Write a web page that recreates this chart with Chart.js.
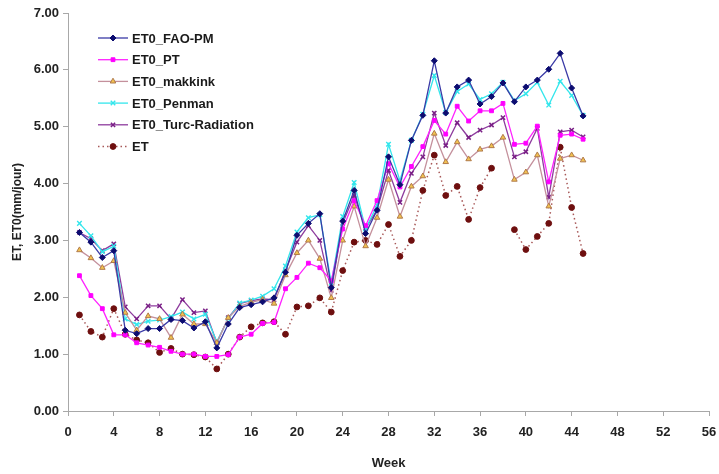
<!DOCTYPE html>
<html lang="fr">
<head>
<meta charset="UTF-8">
<title>ET / ET0 hebdomadaire</title>
<script src="https://cdn.jsdelivr.net/npm/chart.js"></script>
<style>
  *{margin:0;padding:0;box-sizing:border-box;}
  body{background:#fff;width:719px;height:474px;overflow:hidden;}
  canvas{display:block;}
</style>
</head>
<body>
<canvas id="chart" width="719" height="474"></canvas>
<script>
// semaines 1..45
const weeks = [1,2,3,4,5,6,7,8,9,10,11,12,13,14,15,16,17,18,19,20,21,22,23,24,25,26,27,28,29,30,31,32,33,34,35,36,37,38,39,40,41,42,43,44,45];

const faoPm = [3.14,2.97,2.70,2.82,1.42,1.36,1.45,1.45,1.61,1.59,1.46,1.57,1.11,1.53,1.82,1.87,1.92,1.99,2.44,3.09,3.30,3.47,2.17,3.34,3.88,3.12,3.53,4.47,3.98,4.76,5.20,6.16,5.24,5.70,5.82,5.40,5.53,5.77,5.44,5.70,5.82,6.01,6.29,5.68,5.19];
const pt = [2.38,2.03,1.80,1.34,1.34,1.20,1.16,1.12,1.05,1.00,1.00,0.96,0.96,0.99,1.30,1.35,1.54,1.56,2.15,2.35,2.60,2.52,2.29,3.20,3.70,3.26,3.70,4.35,3.94,4.30,4.65,5.11,4.87,5.36,5.10,5.28,5.28,5.41,4.69,4.71,5.01,4.03,4.85,4.87,4.78];
const makkink = [2.83,2.69,2.52,2.64,1.73,1.42,1.67,1.62,1.29,1.70,1.53,1.53,1.20,1.64,1.84,1.91,1.96,1.89,2.39,2.78,3.00,2.68,1.99,3.00,3.60,2.90,3.40,4.07,3.42,3.95,4.13,4.88,4.38,4.73,4.43,4.60,4.66,4.81,4.07,4.20,4.50,3.60,4.44,4.50,4.41];
const penman = [3.30,3.08,2.80,2.90,1.62,1.52,1.58,1.60,1.66,1.74,1.62,1.70,1.22,1.62,1.90,1.95,2.02,2.15,2.55,3.15,3.40,3.45,2.25,3.42,4.02,3.20,3.62,4.69,4.05,4.76,5.22,5.90,5.25,5.62,5.75,5.48,5.58,5.78,5.46,5.58,5.78,5.38,5.80,5.55,5.20];
const turc = [3.14,3.03,2.82,2.94,1.83,1.62,1.85,1.85,1.62,1.96,1.73,1.76,1.20,1.64,1.89,1.94,1.97,1.96,2.47,2.97,3.26,3.00,2.12,3.30,3.79,3.21,3.54,4.23,3.67,4.18,4.47,5.24,4.67,5.07,4.81,4.94,5.03,5.16,4.47,4.56,4.97,3.76,4.91,4.94,4.82];
// ET mesuré (semaine 38 manquante)
const et = [1.69,1.40,1.30,1.80,1.35,1.25,1.20,1.03,1.10,1.00,0.99,0.95,0.74,1.00,1.30,1.48,1.55,1.57,1.35,1.83,1.85,1.99,1.74,2.47,2.97,3.00,2.93,3.28,2.72,3.00,3.88,4.50,3.79,3.95,3.37,3.93,4.27,null,3.19,2.84,3.07,3.30,4.64,3.58,2.77];

const seriesNames = ['ET0_FAO-PM','ET0_PT','ET0_makkink','ET0_Penman','ET0_Turc-Radiation','ET'];
const xTicks = [0,4,8,12,16,20,24,28,32,36,40,44,48,52,56];

const FONT = "'Liberation Sans', Arial, sans-serif";
const pts = arr => weeks.map((w, i) => ({x: w, y: arr[i]}));

function series(label, values, line, pointStyle, fill, edge, radius, extra) {
  return Object.assign({
    label: label,
    data: pts(values),
    borderColor: line,
    borderWidth: 1.3,
    pointStyle: pointStyle,
    pointRadius: radius,
    pointBackgroundColor: fill,
    pointBorderColor: edge,
    pointBorderWidth: 1,
    tension: 0,
    fill: false,
    spanGaps: false
  }, extra || {});
}

const datasets = [
  series(seriesNames[0], faoPm, '#3a3aa6', 'rectRot', '#0c0c70', '#0c0c70', 3),
  series(seriesNames[1], pt, '#ff22ff', 'rect', '#ff00ff', '#ff00ff', 2.7),
  series(seriesNames[2], makkink, '#c4909c', 'triangle', '#f2c250', '#b07a4a', 3.2),
  series(seriesNames[3], penman, '#33e6ec', 'crossRot', '#33e6ec', '#33e6ec', 3.2, {pointBorderWidth: 1.4}),
  series(seriesNames[4], turc, '#8e3c9e', 'crossRot', '#7a1f86', '#7a1f86', 3, {pointBorderWidth: 1.5}),
  series(seriesNames[5], et, '#a85858', 'circle', '#6e0f0f', '#6e0f0f', 2.9, {borderDash: [1.5, 3], borderWidth: 1.5})
];

// légende dessinée dans la zone du graphique, en haut à gauche
const insideLegend = {
  id: 'insideLegend',
  afterDraw(chart) {
    const ctx = chart.ctx;
    const x0 = 98, x1 = 128, textX = 132, y0 = 38, step = 21.7;
    ctx.save();
    chart.data.datasets.forEach((ds, i) => {
      const y = y0 + i * step;
      ctx.strokeStyle = ds.borderColor;
      ctx.lineWidth = ds.borderWidth;
      ctx.setLineDash(ds.borderDash || []);
      ctx.beginPath();
      ctx.moveTo(x0, y);
      ctx.lineTo(x1, y);
      ctx.stroke();
      ctx.setLineDash([]);
      ctx.fillStyle = ds.pointBackgroundColor;
      ctx.strokeStyle = ds.pointBorderColor;
      ctx.lineWidth = ds.pointBorderWidth;
      Chart.helpers.drawPoint(ctx, {pointStyle: ds.pointStyle, radius: ds.pointRadius, rotation: 0, borderWidth: ds.pointBorderWidth}, (x0 + x1) / 2, y);
      ctx.fillStyle = '#1a1a1a';
      ctx.font = 'bold 13px ' + FONT;
      ctx.textBaseline = 'middle';
      ctx.textAlign = 'left';
      ctx.fillText(ds.label, textX, y + 1);
    });
    ctx.restore();
  }
};

new Chart(document.getElementById('chart'), {
  type: 'line',
  data: {datasets: datasets},
  options: {
    responsive: false,
    animation: false,
    devicePixelRatio: 1,
    layout: {padding: {top: 13, right: 10, left: 0, bottom: 0}},
    plugins: {legend: {display: false}, tooltip: {enabled: false}},
    scales: {
      x: {
        type: 'linear',
        min: 0,
        max: 56,
        afterFit: s => { s.height = 63; s.paddingLeft = 0; s.paddingRight = 0; },
        afterBuildTicks: s => { s.ticks = xTicks.map(v => ({value: v})); },
        grid: {drawOnChartArea: false, drawTicks: true, tickLength: 5, color: '#a8a8a8'},
        border: {color: '#a8a8a8', width: 1},
        ticks: {color: '#222', padding: 9, font: {family: FONT, size: 13, weight: 'bold'}, maxRotation: 0},
        title: {display: true, text: 'Week', color: '#222', padding: {top: 0, bottom: 3}, font: {family: FONT, size: 13, weight: 'bold'}}
      },
      y: {
        min: 0,
        max: 7,
        afterFit: s => { s.width = 68; },
        grid: {drawOnChartArea: false, drawTicks: true, tickLength: 5, color: '#a8a8a8'},
        border: {color: '#a8a8a8', width: 1},
        ticks: {stepSize: 1, color: '#222', padding: 4, font: {family: FONT, size: 13, weight: 'bold'}, callback: v => v.toFixed(2)},
        title: {display: true, text: 'ET, ET0(mm/jour)', color: '#222', padding: {top: 10, bottom: 0}, font: {family: FONT, size: 12, weight: 'bold'}}
      }
    }
  },
  plugins: [insideLegend]
});
</script>
</body>
</html>
